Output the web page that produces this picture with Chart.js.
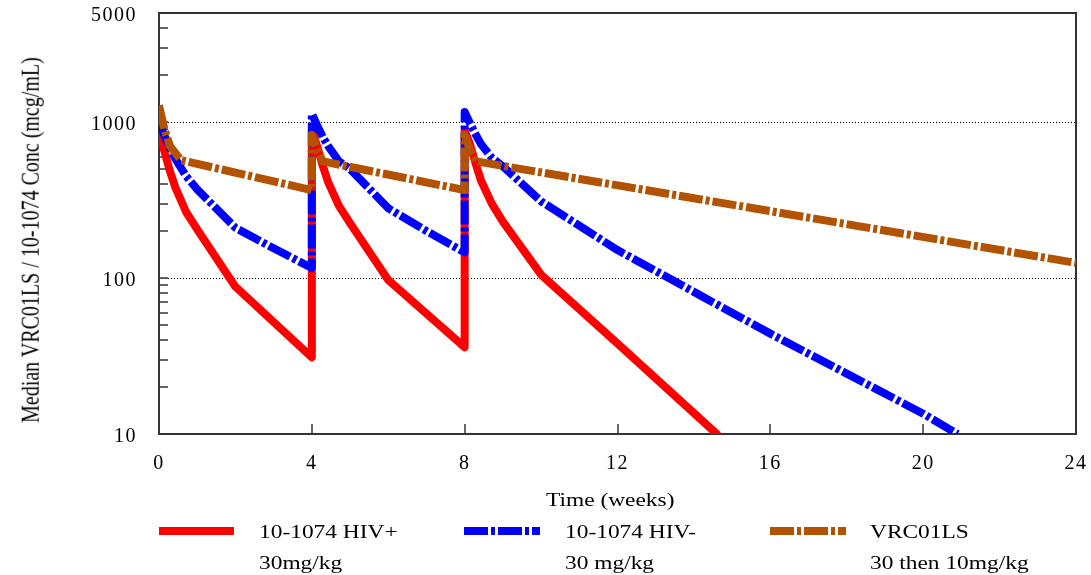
<!DOCTYPE html>
<html>
<head>
<meta charset="utf-8">
<script src="https://cdn.jsdelivr.net/npm/chart.js@4.4.0/dist/chart.umd.min.js"></script>
<style>
  html, body { margin: 0; padding: 0; background: #fff; }
  #wrap { position: relative; width: 1091px; height: 575px; font-family: "Liberation Serif", "Times New Roman", serif; color: #000; }
  #chart { position: absolute; left: 0; top: 0; }
  .txt { position: absolute; font-size: 18px; line-height: 20px; white-space: nowrap; transform-origin: 0 50%; transform: scaleX(1.3); }
  #ytitle { position: absolute; left: 30px; top: 240px; font-size: 20px; line-height: 20px; white-space: nowrap;
            transform: translate(-50%, -50%) rotate(-90deg) scaleY(1.3); }
</style>
</head>
<body>
<div id="wrap">
  <canvas id="chart" width="1091" height="575"></canvas>
  <div id="ytitle">Median VRC01LS / 10-1074 Conc (mcg/mL)</div>
  <div class="txt" style="left:546px; top:490px;">Time (weeks)</div>
  <div class="txt" style="left:259px; top:522px;">10-1074 HIV+</div>
  <div class="txt" style="left:259px; top:553px;">30mg/kg</div>
  <div class="txt" style="left:565px; top:522px;">10-1074 HIV-</div>
  <div class="txt" style="left:565px; top:553px;">30 mg/kg</div>
  <div class="txt" style="left:870px; top:522px;">VRC01LS</div>
  <div class="txt" style="left:870px; top:553px;">30 then 10mg/kg</div>
</div>
<script>
// Median concentration (mcg/mL) against time (weeks)
const redWeeks = [0, 0.14, 0.29, 0.43, 0.71, 1, 2, 4,
                  4, 4.14, 4.29, 4.43, 4.71, 5, 6, 8,
                  8, 8.14, 8.29, 8.43, 8.71, 9, 10, 12, 14.6];
const redConc  = [890, 650, 480, 380, 265, 205, 88, 31,
                  880, 700, 520, 410, 290, 225, 97, 36,
                  880, 720, 540, 420, 300, 230, 105, 38, 10];

const blueWeeks = [0, 0.14, 0.29, 0.43, 0.71, 1, 2, 3, 4,
                   4, 4.14, 4.29, 4.43, 4.71, 5, 6, 7, 8,
                   8, 8.14, 8.29, 8.43, 8.71, 9, 10, 12, 16, 20, 20.9];
const blueConc  = [1000, 820, 680, 580, 450, 370, 210, 155, 116,
                   1130, 950, 800, 700, 560, 500, 280, 200, 146,
                   1160, 980, 830, 720, 590, 520, 310, 151, 44, 13.5, 10];

const brownWeeks = [0, 0.14, 0.29, 0.57, 4,
                    4, 4.14, 4.29, 8,
                    8, 8.14, 8.29, 24];
const brownConc  = [1280, 900, 700, 570, 366,
                    830, 660, 560, 366,
                    830, 660, 560, 125];

const xTicks = [0, 4, 8, 12, 16, 20, 24];
const yTicks = [10, 20, 30, 40, 50, 60, 70, 80, 90,
                100, 200, 300, 400, 500, 600, 700, 800, 900,
                1000, 2000, 3000, 4000, 5000];
const yLabels = [10, 100, 1000, 5000];
const gridValues = [100, 1000];

const FONT = '"Liberation Serif", "Times New Roman", serif';

function pts(xs, ys) {
    return xs.map((x, i) => ({ x: x, y: ys[i] }));
}

// frame, inward tick marks, dotted grid and the legend line samples
const axisDecor = {
    id: 'axisDecor',
    beforeDraw(chart) {
        chart.ctx.letterSpacing = '1.5px';
    },
    beforeDatasetsDraw(chart) {
        const ctx = chart.ctx;
        const a = chart.chartArea;
        const x = chart.scales.x, y = chart.scales.y;
        ctx.save();
        ctx.strokeStyle = '#000';
        ctx.lineWidth = 1;
        ctx.setLineDash([1, 2]);
        gridValues.forEach(v => {
            const py = Math.round(y.getPixelForValue(v)) + 0.5;
            ctx.beginPath(); ctx.moveTo(a.left, py); ctx.lineTo(a.right, py); ctx.stroke();
        });
        ctx.setLineDash([]);
        ctx.strokeStyle = '#333';
        ctx.lineWidth = 1.5;
        yTicks.forEach(v => {
            if (v <= yTicks[0] || v >= yTicks[yTicks.length - 1]) return;
            const py = Math.round(y.getPixelForValue(v));
            ctx.beginPath(); ctx.moveTo(a.left, py); ctx.lineTo(a.left + 9, py); ctx.stroke();
        });
        xTicks.forEach(v => {
            if (v <= xTicks[0] || v >= xTicks[xTicks.length - 1]) return;
            const px = Math.round(x.getPixelForValue(v));
            ctx.beginPath(); ctx.moveTo(px, a.bottom); ctx.lineTo(px, a.bottom - 10); ctx.stroke();
        });
        ctx.lineWidth = 2;
        ctx.strokeRect(a.left, a.top, a.right - a.left, a.bottom - a.top);
        ctx.restore();
    },
    afterDraw(chart) {
        const ctx = chart.ctx;
        const spots = [[159, 234], [464, 540], [770, 846]];
        chart.data.datasets.forEach((ds, i) => {
            ctx.save();
            ctx.strokeStyle = ds.borderColor;
            ctx.lineWidth = 8;
            ctx.setLineDash(ds.borderDash || []);
            ctx.beginPath();
            ctx.moveTo(spots[i][0], 531);
            ctx.lineTo(spots[i][1], 531);
            ctx.stroke();
            ctx.restore();
        });
    }
};

new Chart(document.getElementById('chart'), {
    type: 'line',
    data: {
        datasets: [
            {
                label: '10-1074 HIV+',
                data: pts(redWeeks, redConc),
                borderColor: '#ff0000',
                borderWidth: 8,
                borderCapStyle: 'round',
                borderJoinStyle: 'round',
                order: 3
            },
            {
                label: '10-1074 HIV-',
                data: pts(blueWeeks, blueConc),
                borderColor: '#0000ff',
                borderWidth: 8,
                borderDash: [24, 3, 4, 3],
                borderJoinStyle: 'round',
                order: 2
            },
            {
                label: 'VRC01LS',
                data: pts(brownWeeks, brownConc),
                borderColor: '#b35200',
                borderWidth: 8,
                borderDash: [24, 3, 4, 3],
                borderJoinStyle: 'round',
                order: 1
            }
        ]
    },
    options: {
        responsive: false,
        animation: false,
        layout: { padding: { top: 13, right: 15, left: 0, bottom: 0 } },
        elements: { point: { radius: 0 }, line: { tension: 0 } },
        plugins: { legend: { display: false }, tooltip: { enabled: false } },
        scales: {
            x: {
                type: 'linear',
                min: 0,
                max: 24,
                afterBuildTicks: s => { s.ticks = xTicks.map(v => ({ value: v })); },
                afterFit: s => { s.height = 141; s.paddingLeft = 0; s.paddingRight = 0; },
                grid: { display: false, drawTicks: false },
                border: { display: false },
                ticks: { padding: 18, color: '#000', maxRotation: 0, autoSkip: false,
                         font: { family: FONT, size: 20 } }
            },
            y: {
                type: 'logarithmic',
                min: 10,
                max: 5000,
                afterBuildTicks: s => { s.ticks = yTicks.map(v => ({ value: v })); },
                afterFit: s => { s.width = 159; s.paddingTop = 0; s.paddingBottom = 0; },
                grid: { display: false, drawTicks: false },
                border: { display: false },
                ticks: { padding: 22, color: '#000', autoSkip: false, labelOffset: 3,
                         font: { family: FONT, size: 20 },
                         callback: v => yLabels.includes(v) ? String(v) : '' }
            }
        }
    },
    plugins: [axisDecor]
});
</script>
</body>
</html>
